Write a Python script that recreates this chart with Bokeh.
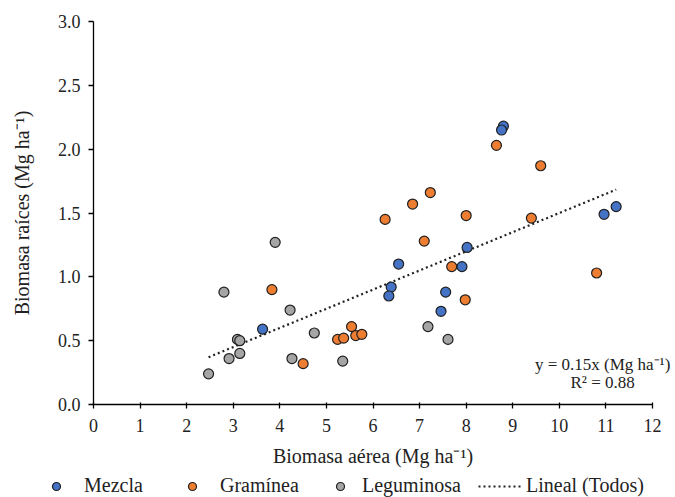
from bokeh.plotting import figure
from bokeh.models import Legend, LegendItem, Label, Range1d, FixedTicker, CustomJSTickFormatter
from bokeh.embed import file_html
from bokeh.resources import INLINE

# Data
mezcla_x = [3.63, 6.55, 6.39, 6.34, 8.02, 7.91, 7.56, 7.46, 8.80, 8.76, 10.96, 11.22]
mezcla_y = [0.59, 1.10, 0.92, 0.85, 1.23, 1.08, 0.88, 0.73, 2.18, 2.15, 1.49, 1.55]

graminea_x = [8.65, 7.23, 6.85, 6.26, 8.00, 7.10, 7.69, 7.98, 5.54, 5.24, 5.37, 5.63, 5.76, 4.50, 3.83, 9.60, 9.40, 10.80]
graminea_y = [2.03, 1.66, 1.57, 1.45, 1.48, 1.28, 1.08, 0.82, 0.61, 0.51, 0.52, 0.54, 0.55, 0.32, 0.90, 1.87, 1.46, 1.03]

leguminosa_x = [3.90, 2.80, 4.22, 3.09, 3.14, 3.14, 2.91, 2.47, 4.26, 4.74, 5.35, 7.18, 7.61]
leguminosa_y = [1.27, 0.88, 0.74, 0.51, 0.50, 0.40, 0.36, 0.24, 0.36, 0.56, 0.34, 0.61, 0.51]

slope = 0.15
r2 = 0.88
x_ticks = list(range(0, 13))
y_ticks = [0.0, 0.5, 1.0, 1.5, 2.0, 2.5, 3.0]
x_min, x_max = 0, 12
y_min, y_max = 0.0, 3.0

all_x = mezcla_x + graminea_x + leguminosa_x
trend_x = [min(all_x), max(all_x)]
trend_y = [slope * v for v in trend_x]

FONT = "Liberation Serif"
TXT = "#222222"

# canvas geometry (pixels): plot area spans x 93..652, y 21..404
W, H = 675, 497
AX_L, AX_R, AX_T, AX_B = 93, 652, 21, 404
ux = (AX_R - AX_L) / (x_max - x_min)
uy = (AX_B - AX_T) / (y_max - y_min)
xr = Range1d(x_min - AX_L / ux, x_max + (W - AX_R) / ux)
yr = Range1d(y_min - (H - AX_B) / uy, y_max + AX_T / uy)

p = figure(width=W, height=H, output_backend="svg", toolbar_location=None,
           x_range=xr, y_range=yr, min_border=0)
p.outline_line_color = None
p.xgrid.grid_line_color = None
p.ygrid.grid_line_color = None

p.xaxis.ticker = FixedTicker(ticks=x_ticks)
p.yaxis.ticker = FixedTicker(ticks=y_ticks)
p.yaxis.formatter = CustomJSTickFormatter(code="return tick.toFixed(1);")
p.xaxis.fixed_location = y_min
p.yaxis.fixed_location = x_min
p.xaxis.bounds = (x_min, x_max)
p.yaxis.bounds = (y_min, y_max)

for ax in (p.xaxis[0], p.yaxis[0]):
    ax.axis_line_color = "black"
    ax.axis_line_width = 1.3
    ax.major_tick_line_color = "black"
    ax.major_tick_line_width = 1.3
    ax.minor_tick_line_color = None
    ax.major_label_text_font = FONT
    ax.major_label_text_font_size = "18px"
    ax.major_label_text_color = TXT
    ax.axis_label_text_font = FONT
    ax.axis_label_text_font_size = "20px"
    ax.axis_label_text_font_style = "normal"
    ax.axis_label_text_color = TXT

p.xaxis.major_tick_in = 2
p.xaxis.major_tick_out = 4
p.yaxis.major_tick_in = 0
p.yaxis.major_tick_out = 5
p.xaxis.major_label_standoff = 10
p.yaxis.major_label_standoff = 8
p.xaxis.axis_label = "Biomasa aérea (Mg ha⁻¹)"
p.yaxis.axis_label = "Biomasa raíces (Mg ha⁻¹)"
p.xaxis.axis_label_standoff = 10
p.yaxis.axis_label_standoff = 22

line = p.line(trend_x, trend_y, line_color=TXT, line_width=2.2, line_dash="2 3")

s_m = p.scatter(mezcla_x, mezcla_y, size=10, fill_color="#4472C4", line_color="#1f1f1f", line_width=1.2)
s_g = p.scatter(graminea_x, graminea_y, size=10, fill_color="#ED7D31", line_color="#1f1f1f", line_width=1.2)
s_l = p.scatter(leguminosa_x, leguminosa_y, size=10, fill_color="#A5A5A5", line_color="#1f1f1f", line_width=1.2)

p.add_layout(Label(x=10.93, y=0.31, text=f"y = {slope}x (Mg ha⁻¹)", text_align="center",
                   text_baseline="middle", text_font=FONT, text_font_size="17px", text_color=TXT))
p.add_layout(Label(x=10.93, y=0.17, text=f"R² = {r2}", text_align="center",
                   text_baseline="middle", text_font=FONT, text_font_size="17px", text_color=TXT))

def make_legend(label, renderer, x, glyph_w, standoff):
    return Legend(items=[LegendItem(label=label, renderers=[renderer])],
                  location=(x, 0), padding=0, spacing=0, margin=0,
                  glyph_width=glyph_w, glyph_height=20, label_standoff=standoff,
                  border_line_color=None, background_fill_alpha=0,
                  label_text_font=FONT, label_text_font_size="20px",
                  label_text_color=TXT)

p.add_layout(make_legend("Mezcla", s_m, 36, 40, 8), "center")
p.add_layout(make_legend("Gramínea", s_g, 172, 40, 8), "center")
p.add_layout(make_legend("Leguminosa", s_l, 320, 40, 2), "center")
p.add_layout(make_legend("Lineal (Todos)", line, 478, 44, 4), "center")

open("out.html", "w").write(file_html(p, INLINE))
